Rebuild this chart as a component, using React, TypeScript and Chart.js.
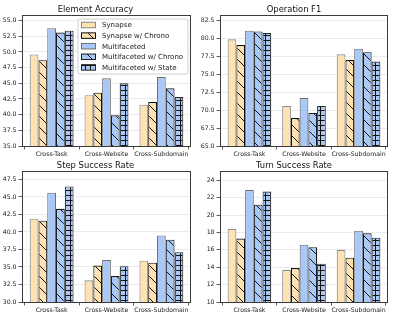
import React, { useEffect, useRef } from 'react';
import { Chart, registerables } from 'chart.js';

Chart.register(...registerables);

const categories = ['Cross-Task', 'Cross-Website', 'Cross-Subdomain'];
const seriesLabels = ['Synapse', 'Synapse w/ Chrono', 'Multifaceted', 'Multifaceted w/ Chrono', 'Multifaceted w/ State'];

// rows follow seriesLabels, columns follow categories
const elementAccuracy = [
  [49.6, 43.1, 41.6],
  [48.7, 43.5, 42.0],
  [53.8, 45.8, 46.0],
  [53.1, 39.9, 44.2],
  [53.4, 45.0, 42.8],
];
const operationF1 = [
  [79.9, 70.6, 77.8],
  [79.1, 68.9, 77.0],
  [81.1, 71.7, 78.6],
  [81.0, 69.6, 78.1],
  [80.8, 70.6, 76.8],
];
const stepSuccessRate = [
  [41.9, 33.1, 35.9],
  [41.6, 35.2, 35.6],
  [45.6, 36.0, 39.5],
  [43.3, 33.7, 38.9],
  [46.5, 35.1, 37.1],
];
const turnSuccessRate = [
  [18.4, 13.7, 16.0],
  [17.3, 13.9, 15.1],
  [22.9, 16.6, 18.2],
  [21.2, 16.3, 17.9],
  [22.7, 14.4, 17.4],
];

const eaTicks = [35, 37.5, 40, 42.5, 45, 47.5, 50, 52.5, 55];
const of1Ticks = [65, 67.5, 70, 72.5, 75, 77.5, 80, 82.5];
const ssrTicks = [30, 32.5, 35, 37.5, 40, 42.5, 45, 47.5];
const tsrTicks = [10, 12, 14, 16, 18, 20, 22, 24];

const FONT = "'DejaVu Sans', sans-serif";
const ORANGE = '#fee2b2';
const BLUE = '#a8c8f8';

type Kind = 'plain' | 'diag' | 'grid';

function makeFill(bg: string, kind: Kind, line: string): string | CanvasPattern {
  if (kind === 'plain') return bg;
  const c = document.createElement('canvas');
  const s = kind === 'diag' ? 11 : 5;
  c.width = s;
  c.height = s;
  const g = c.getContext('2d')!;
  g.fillStyle = bg;
  g.fillRect(0, 0, s, s);
  g.strokeStyle = line;
  g.lineWidth = 1;
  g.beginPath();
  if (kind === 'diag') {
    for (const k of [-s, 0, s]) {
      g.moveTo(k - 1, -1);
      g.lineTo(k + s + 1, s + 1);
    }
  } else {
    g.moveTo(0, 0.5);
    g.lineTo(s, 0.5);
    g.moveTo(0.5, 0);
    g.lineTo(0.5, s);
  }
  g.stroke();
  return g.createPattern(c, 'repeat')!;
}

const styleKinds: Kind[] = ['plain', 'diag', 'plain', 'diag', 'grid'];
const styleBgs = [ORANGE, ORANGE, BLUE, BLUE, BLUE];
const styleEdges = ['#8a8a8a', '#111111', '#707070', '#1a1a1a', '#2a2a2a'];

interface Panel {
  title: string;
  values: number[][];
  ticks: number[];
  decimals: number;
  yMin: number;
  yMax: number;
  left: number;
  top: number;
  width: number;
  height: number;
  plotLeft: number;
  plotRight: number;
  plotTop: number;
  plotBottom: number;
  legend: boolean;
}

const panels: Panel[] = [
  { title: 'Element Accuracy', values: elementAccuracy, ticks: eaTicks, decimals: 1, yMin: 35, yMax: 55.9,
    left: 0, top: 0, width: 200, height: 160, plotLeft: 22, plotRight: 191, plotTop: 15, plotBottom: 146, legend: true },
  { title: 'Operation F1', values: operationF1, ticks: of1Ticks, decimals: 1, yMin: 65, yMax: 83.3,
    left: 200, top: 0, width: 199, height: 160, plotLeft: 220, plotRight: 388, plotTop: 15, plotBottom: 146, legend: false },
  { title: 'Step Success Rate', values: stepSuccessRate, ticks: ssrTicks, decimals: 1, yMin: 30, yMax: 48.7,
    left: 0, top: 160, width: 200, height: 159, plotLeft: 22, plotRight: 191, plotTop: 171, plotBottom: 302, legend: false },
  { title: 'Turn Success Rate', values: turnSuccessRate, ticks: tsrTicks, decimals: 0, yMin: 10, yMax: 25.07,
    left: 200, top: 160, width: 199, height: 159, plotLeft: 220, plotRight: 388, plotTop: 171, plotBottom: 302, legend: false },
];

const framePlugin = {
  id: 'frame',
  afterDatasetsDraw(chart: any) {
    const { ctx, chartArea: a } = chart;
    ctx.save();
    ctx.strokeStyle = '#3a3a3a';
    ctx.lineWidth = 1;
    ctx.strokeRect(Math.round(a.left) + 0.5, Math.round(a.top) + 0.5, Math.round(a.right - a.left) - 1, Math.round(a.bottom - a.top));
    ctx.restore();
  },
};

const legendPlugin = {
  id: 'insideLegend',
  afterDatasetsDraw(chart: any, _args: any, opts: any) {
    if (!opts || !opts.show) return;
    const { ctx, chartArea: a } = chart;
    const boxW = 110;
    const boxH = 55;
    const x0 = a.right - 3 - boxW;
    const y0 = a.top + 4;
    ctx.save();
    ctx.beginPath();
    const r = 2;
    ctx.moveTo(x0 + r, y0);
    ctx.lineTo(x0 + boxW - r, y0);
    ctx.arcTo(x0 + boxW, y0, x0 + boxW, y0 + r, r);
    ctx.lineTo(x0 + boxW, y0 + boxH - r);
    ctx.arcTo(x0 + boxW, y0 + boxH, x0 + boxW - r, y0 + boxH, r);
    ctx.lineTo(x0 + r, y0 + boxH);
    ctx.arcTo(x0, y0 + boxH, x0, y0 + boxH - r, r);
    ctx.lineTo(x0, y0 + r);
    ctx.arcTo(x0, y0, x0 + r, y0, r);
    ctx.closePath();
    ctx.fillStyle = 'rgba(255,255,255,0.85)';
    ctx.fill();
    ctx.strokeStyle = '#d0d0d0';
    ctx.lineWidth = 1;
    ctx.stroke();
    ctx.font = `7px ${FONT}`;
    ctx.textBaseline = 'middle';
    ctx.textAlign = 'left';
    chart.data.datasets.forEach((ds: any, i: number) => {
      const cy = y0 + 6 + i * 10.6;
      ctx.fillStyle = ds.backgroundColor;
      ctx.fillRect(x0 + 3.5, cy - 2.75, 14, 5.5);
      ctx.strokeStyle = ds.borderColor;
      ctx.lineWidth = 1;
      ctx.strokeRect(x0 + 3.5, cy - 2.75, 14, 5.5);
      ctx.fillStyle = '#222';
      ctx.fillText(ds.label, x0 + 24, cy + 0.5);
    });
    ctx.restore();
  },
};

function PanelChart({ p }: { p: Panel }) {
  const ref = useRef<HTMLCanvasElement>(null);
  useEffect(() => {
    const canvas = ref.current!;
    const yAxisWidth = p.plotLeft - p.left;
    const rightPad = p.left + p.width - p.plotRight;
    const titleLine = 8.4 * 1.2;
    const titleTopPad = p.plotTop - p.top - titleLine;
    const xAxisHeight = p.top + p.height - p.plotBottom;
    const datasets = seriesLabels.map((label, i) => ({
      label,
      data: p.values[i].map((v, j) => ({ x: j, y: v })),
      backgroundColor: makeFill(styleBgs[i], styleKinds[i], '#111'),
      borderColor: styleEdges[i],
      borderWidth: 1.1,
      borderSkipped: false,
      barPercentage: 1,
      categoryPercentage: 0.8,
    }));
    const chart = new Chart(canvas, {
      type: 'bar',
      data: { datasets } as any,
      plugins: [framePlugin, legendPlugin],
      options: {
        animation: false,
        responsive: false,
        devicePixelRatio: 1,
        layout: { padding: { left: 0, right: rightPad, top: 0, bottom: 0 } },
        plugins: {
          legend: { display: false },
          tooltip: { enabled: false },
          title: {
            display: true,
            text: p.title,
            color: '#111',
            font: { family: FONT, size: 8.4, weight: 'normal' as any, lineHeight: 1.2 },
            padding: { top: titleTopPad, bottom: 0 },
          },
          insideLegend: { show: p.legend },
        } as any,
        scales: {
          x: {
            type: 'linear',
            min: -0.54,
            max: 2.54,
            offset: false,
            afterBuildTicks: (s: any) => {
              s.ticks = categories.map((_, i) => ({ value: i }));
            },
            afterFit: (s: any) => {
              s.height = xAxisHeight;
            },
            ticks: {
              autoSkip: false,
              maxRotation: 0,
              padding: 1,
              color: '#222',
              font: { family: FONT, size: 6.2 },
              callback: (v: any) => categories[Math.round(Number(v))] ?? '',
            },
            grid: { drawOnChartArea: false, drawTicks: true, tickLength: 3.5, tickColor: '#333', tickWidth: 0.8 },
            border: { display: false },
          },
          y: {
            type: 'linear',
            min: p.yMin,
            max: p.yMax,
            afterBuildTicks: (s: any) => {
              s.ticks = p.ticks.map((v) => ({ value: v }));
            },
            afterFit: (s: any) => {
              s.width = yAxisWidth;
            },
            ticks: {
              padding: 2,
              color: '#222',
              font: { family: FONT, size: 6.2 },
              callback: (v: any) => Number(v).toFixed(p.decimals),
            },
            grid: { color: '#e6e6e6', lineWidth: 0.8, tickLength: 3.5, tickColor: '#333', tickWidth: 0.8 },
            border: { display: false },
          },
        } as any,
      },
    } as any);
    return () => chart.destroy();
  }, [p]);
  return (
    <canvas
      ref={ref}
      width={p.width}
      height={p.height}
      style={{ position: 'absolute', left: p.left, top: p.top, width: p.width, height: p.height }}
    />
  );
}

export default function App() {
  return (
    <div style={{ position: 'fixed', left: 0, top: 0, width: 399, height: 319, background: '#fff' }}>
      {panels.map((p) => (
        <PanelChart key={p.title} p={p} />
      ))}
    </div>
  );
}
